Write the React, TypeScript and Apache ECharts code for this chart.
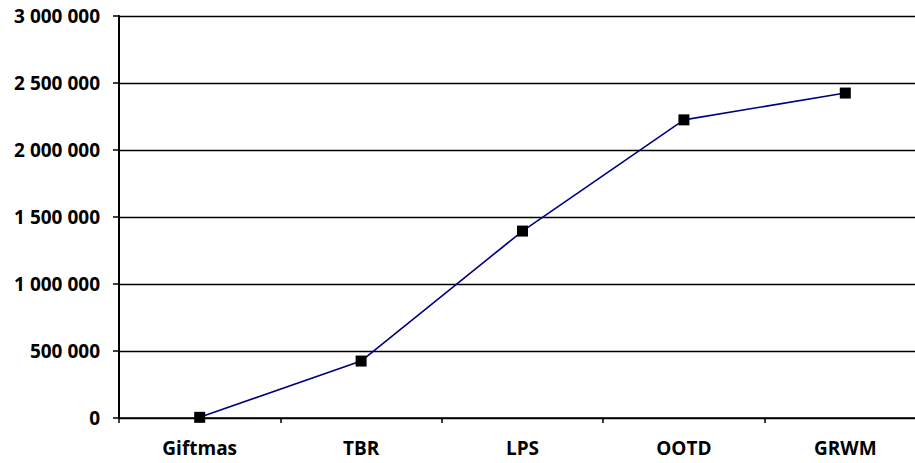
import React, { useEffect, useRef } from "react";
import * as echarts from "echarts";

const categories = ["Giftmas", "TBR", "LPS", "OOTD", "GRWM"];
const views = [5000, 425000, 1395000, 2225000, 2425000];
const yMin = 0;
const yMax = 3000000;
const yStep = 500000;

const fmt = (v: number) => String(Math.round(v)).replace(/\B(?=(\d{3})+(?!\d))/g, " ");

export default function App() {
  const ref = useRef<HTMLDivElement>(null);
  useEffect(() => {
    if (!ref.current) return;
    const chart = echarts.init(ref.current, null, { renderer: "svg" });
    const font = { fontFamily: "Open Sans", fontWeight: "bold" as const, fontSize: 19, color: "#000" };
    chart.setOption({
      animation: false,
      backgroundColor: "#fff",
      // the plot area runs a little past the right edge of the visible frame
      grid: { left: 119, right: 0, top: 16, bottom: 45 },
      xAxis: {
        type: "category",
        data: categories,
        boundaryGap: true,
        axisLine: { lineStyle: { color: "#000", width: 1.5 } },
        axisTick: { show: true, inside: false, length: 5, lineStyle: { color: "#000", width: 1.5 } },
        axisLabel: { ...font, margin: 20 },
        splitLine: { show: false },
      },
      yAxis: {
        type: "value",
        min: yMin,
        max: yMax,
        interval: yStep,
        axisLine: { show: true, lineStyle: { color: "#000", width: 2 } },
        axisTick: { show: true, length: 6, lineStyle: { color: "#000", width: 1.5 } },
        axisLabel: { ...font, margin: 19, formatter: (v: number) => fmt(v) },
        splitLine: { show: true, lineStyle: { color: "#000", width: 1.3 } },
      },
      series: [
        {
          type: "line",
          data: views,
          symbol: "rect",
          symbolSize: 11,
          itemStyle: { color: "#000" },
          lineStyle: { color: "#000080", width: 1.6 },
        },
      ],
    });
    return () => chart.dispose();
  }, []);
  return (
    <div style={{ position: "fixed", left: 0, top: 0, width: 915, height: 463, overflow: "hidden", background: "#fff" }}>
      <div ref={ref} style={{ width: 926, height: 463 }} />
    </div>
  );
}
